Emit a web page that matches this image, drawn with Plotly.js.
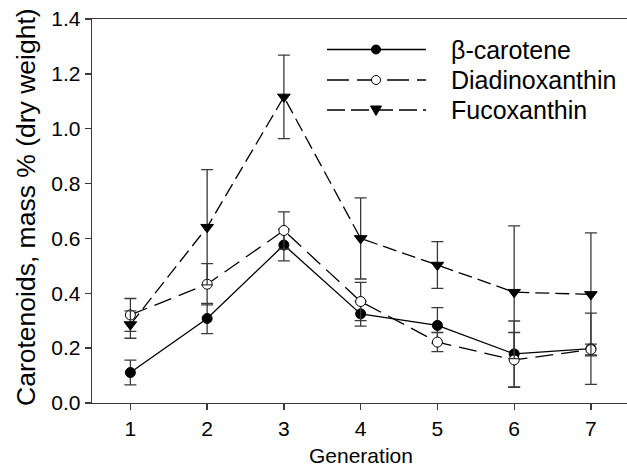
<!DOCTYPE html>
<html>
<head>
<meta charset="utf-8">
<script src="https://cdn.plot.ly/plotly-3.0.1.min.js"></script>
<style>html,body{margin:0;padding:0;background:#fff;}#chart{width:627px;height:467px;}</style>
</head>
<body>
<div id="chart"></div>
<script>
const generations = [1, 2, 3, 4, 5, 6, 7];
const betaCarotene = [0.111, 0.308, 0.576, 0.325, 0.283, 0.179, 0.198];
const betaCaroteneErr = [0.045, 0.055, 0.058, 0.045, 0.065, 0.12, 0.13];
const diadinoxanthin = [0.321, 0.433, 0.629, 0.370, 0.222, 0.157, 0.195];
const diadinoxanthinErr = [0.06, 0.075, 0.068, 0.07, 0.035, 0.10, 0.02];
const fucoxanthin = [0.286, 0.641, 1.116, 0.600, 0.503, 0.404, 0.396];
const fucoxanthinErr = [0.05, 0.21, 0.152, 0.148, 0.085, 0.242, 0.224];
const seriesNames = ["\u03b2-carotene", "Diadinoxanthin", "Fucoxanthin"];
const yTicks = [0, 0.2, 0.4, 0.6, 0.8, 1.0, 1.2, 1.4];
const xTitle = "Generation";
const yTitle = "Carotenoids, mass % (dry weight)";

const FONT = "Liberation Sans, Arial, sans-serif";
const ink = "#000";
const axisCol = "#3a3a3a";

function errSpec(arr) {
  return {type: "data", array: arr, visible: true, color: axisCol, thickness: 1.3, width: 6};
}

const styles = [
  {dash: "solid", symbol: "circle", fill: ink},
  {dash: "18px,8px", symbol: "circle", fill: "#fff"},
  {dash: "14px,6px", symbol: "triangle-down", fill: ink}
];
const values = [betaCarotene, diadinoxanthin, fucoxanthin];
const errors = [betaCaroteneErr, diadinoxanthinErr, fucoxanthinErr];

const traces = values.map((v, i) => ({
  x: generations, y: v, name: seriesNames[i], type: "scatter", mode: "lines+markers",
  line: {color: ink, width: 1.3, dash: styles[i].dash},
  marker: {symbol: styles[i].symbol, size: i === 2 ? 11 : 10, color: styles[i].fill, line: {color: ink, width: 1}},
  error_y: errSpec(errors[i]),
  showlegend: false
}));

// manual legend (long sample lines as in the reference)
const L = 92, T = 19, W = 535, H = 384;
const px = p => (p - L) / W;
const py = p => (T + H - p) / H;
const rows = [49.5, 80, 110];
const shapes = [];
const annotations = [];
rows.forEach((ry, i) => {
  shapes.push({type: "line", xref: "paper", yref: "paper", x0: px(327), x1: px(426), y0: py(ry), y1: py(ry),
    line: {color: ink, width: 1.3, dash: i === 0 ? "solid" : (i === 1 ? "22px,8px" : "18px,6px")}});
  if (i < 2) {
    shapes.push({type: "circle", xref: "paper", yref: "paper", xsizemode: "pixel", ysizemode: "pixel",
      xanchor: px(376), yanchor: py(ry), x0: -4.5, x1: 4.5, y0: -4.5, y1: 4.5,
      fillcolor: styles[i].fill, line: {color: ink, width: 1}});
  } else {
    shapes.push({type: "path", xref: "paper", yref: "paper", xsizemode: "pixel", ysizemode: "pixel",
      xanchor: px(376), yanchor: py(ry), path: "M-5.5,4 L5.5,4 L0,-5.5 Z",
      fillcolor: ink, line: {color: ink, width: 1}});
  }
  annotations.push({xref: "paper", yref: "paper", x: px(449), y: py(ry), xanchor: "left", yanchor: "middle",
    text: seriesNames[i], showarrow: false, font: {family: FONT, size: 25, color: ink}});
});

// axis titles
annotations.push({xref: "x", yref: "paper", x: 4, y: py(455), xanchor: "center", yanchor: "middle",
  text: xTitle, showarrow: false, font: {family: FONT, size: 21, color: ink}});
annotations.push({xref: "paper", yref: "paper", x: px(26), y: py(207), xanchor: "center", yanchor: "middle",
  textangle: -90, text: yTitle, showarrow: false, font: {family: FONT, size: 26.5, color: ink}});

const layout = {
  width: 627, height: 467,
  margin: {l: L, r: 0, t: T, b: 467 - T - H, pad: 0},
  paper_bgcolor: "#fff", plot_bgcolor: "#fff",
  font: {family: FONT, color: ink},
  showlegend: false,
  xaxis: {
    range: [0.5, 7.47], tickvals: generations, ticktext: generations.map(String),
    ticks: "outside", ticklen: 6, tickwidth: 1.3, tickcolor: axisCol,
    showline: true, linecolor: axisCol, linewidth: 1.3, mirror: true,
    showgrid: false, zeroline: false,
    tickfont: {family: FONT, size: 21, color: ink},
    automargin: false
  },
  yaxis: {
    range: [0, 1.4], tickvals: yTicks, ticktext: yTicks.map(v => v.toFixed(1)),
    ticks: "outside", ticklen: 6, tickwidth: 1.3, tickcolor: axisCol,
    showline: true, linecolor: axisCol, linewidth: 1.3, mirror: false,
    showgrid: false, zeroline: false,
    tickfont: {family: FONT, size: 21, color: ink},
    automargin: false
  },
  shapes: shapes,
  annotations: annotations
};

Plotly.newPlot("chart", traces, layout, {displayModeBar: false, staticPlot: true});
</script>
</body>
</html>
